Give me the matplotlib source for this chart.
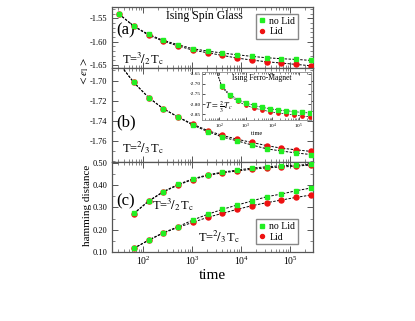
import matplotlib
matplotlib.use("Agg")
import matplotlib.pyplot as plt
from matplotlib.ticker import MultipleLocator, FixedLocator, LogLocator, NullFormatter, FormatStrFormatter

plt.rcParams['font.family'] = ['Liberation Serif', 'DejaVu Serif']
plt.rcParams['mathtext.fontset'] = 'stix'

# time grid (factor-2 steps)
t_a = [32, 64, 128, 256, 512, 1024, 2048, 4096, 8192, 16384, 32768, 65536, 131072, 262144]
t_c = t_a[1:]

# (a) spin glass energy, T = 3/2 Tc
a_nolid = [-1.5407, -1.5664, -1.5843, -1.5971, -1.6064, -1.6150, -1.6200,
           -1.6243, -1.6279, -1.6314, -1.6343, -1.6364, -1.6379, -1.6400]
a_lid = [-1.5410, -1.5670, -1.5860, -1.5990, -1.6090, -1.6180, -1.6236,
         -1.6293, -1.6350, -1.6393, -1.6429, -1.6457, -1.6486, -1.6514]

# (b) spin glass energy, T = 2/3 Tc
b_nolid = [-1.6830, -1.7019, -1.7168, -1.7279, -1.7362, -1.7441, -1.7505,
           -1.7559, -1.7597, -1.7638, -1.7676, -1.7698, -1.7717, -1.7733]
b_lid = [-1.6830, -1.7019, -1.7168, -1.7279, -1.7360, -1.7432, -1.7495,
         -1.7543, -1.7581, -1.7613, -1.7644, -1.7670, -1.7686, -1.7702]

# (c) hamming distance
c_hi_nolid = [0.273, 0.329, 0.371, 0.403, 0.428, 0.446, 0.458, 0.467, 0.476, 0.482, 0.4865, 0.4895, 0.4925]
c_hi_lid = [0.272, 0.327, 0.369, 0.400, 0.425, 0.443, 0.455, 0.463, 0.471, 0.477, 0.481, 0.485, 0.490]
c_lo_nolid = [0.1164, 0.1537, 0.1866, 0.2134, 0.2433, 0.2687, 0.2910, 0.3104, 0.3284, 0.3478, 0.3597, 0.3746, 0.3866]
c_lo_lid = [0.1164, 0.1520, 0.1850, 0.2104, 0.2328, 0.2552, 0.2731, 0.2910, 0.3075, 0.3209, 0.3328, 0.3448, 0.3552]

# inset: ferromagnet energy
t_in = [64, 128, 256, 512, 1024, 2048, 4096, 8192, 16384, 32768, 65536, 131072, 262144]
in_nolid = [-2.600, -2.7117, -2.753, -2.778, -2.795, -2.807, -2.817, -2.823, -2.830, -2.833, -2.838, -2.842, -2.845]
in_lid = [-2.600, -2.716, -2.760, -2.787, -2.807, -2.820, -2.830, -2.838, -2.845, -2.850, -2.855, -2.860, -2.864]

GREEN = '#22ee22'
RED = '#ee1111'
FRAME = '#555555'
XLIM = (23, 2.9e5)

fig = plt.figure(figsize=(4.15, 3.21), dpi=100)
L, W = 0.270, 0.484
ax_a = fig.add_axes([L, 0.788, W, 0.190])
ax_b = fig.add_axes([L, 0.495, W, 0.293])
ax_c = fig.add_axes([L, 0.215, W, 0.280])


def style(ax, ylab_size=6):
    ax.set_xscale('log')
    ax.set_xlim(*XLIM)
    ax.xaxis.set_major_locator(LogLocator(base=10, numticks=10))
    ax.xaxis.set_minor_locator(LogLocator(base=10, subs=range(2, 10), numticks=20))
    ax.xaxis.set_minor_formatter(NullFormatter())
    ax.tick_params(which='both', direction='in', top=True, right=True, colors=FRAME,
                   labelcolor='black', labelsize=ylab_size)
    ax.tick_params(which='major', length=4, width=0.7)
    ax.tick_params(which='minor', length=2, width=0.5)
    for s in ax.spines.values():
        s.set_color(FRAME)
        s.set_linewidth(0.9)


def draw(ax, t, nolid, lid, ms=3.6, lw=0.7):
    ax.plot(t, lid, ls='--', color='black', lw=lw, dashes=(2.5, 1.5), zorder=2)
    ax.plot(t, nolid, ls='--', color='black', lw=lw, dashes=(2.5, 1.5), zorder=2)
    ax.plot(t, lid, 'o', color=RED, ms=ms, mec=RED, zorder=3, label='Lid')
    ax.plot(t, nolid, 's', color=GREEN, ms=ms * 0.95, mec=GREEN, zorder=4, label='no Lid')


legend_kw = dict(fontsize=7, fancybox=False, edgecolor='#888888', handlelength=0.7,
                 handletextpad=0.4, borderpad=0.3, labelspacing=0.15, markerscale=0.8,
                 framealpha=1)

# (a)
style(ax_a)
draw(ax_a, t_a, a_nolid, a_lid)
ax_a.set_ylim(-1.6564, -1.5258)
ax_a.yaxis.set_major_locator(FixedLocator([-1.65, -1.60, -1.55]))
ax_a.yaxis.set_minor_locator(MultipleLocator(0.01))
ax_a.yaxis.set_major_formatter(FormatStrFormatter('%.2f'))
ax_a.set_xticklabels([])
ax_a.text(0.02, 0.56, '(a)', transform=ax_a.transAxes, fontsize=12)
ax_a.text(0.46, 0.80, 'Ising Spin Glass', transform=ax_a.transAxes, fontsize=8.5, ha='center')
ax_a.text(0.05, 0.08, r'T=$^3\!/_2\,$T$_{\rm c}$', transform=ax_a.transAxes, fontsize=9)
h, l = ax_a.get_legend_handles_labels()
ax_a.legend(h[::-1], l[::-1], loc='upper right', bbox_to_anchor=(0.95, 0.97), **legend_kw)

# (b)
style(ax_b)
draw(ax_b, t_a, b_nolid, b_lid)
ax_b.set_ylim(-1.7808, -1.6876)
ax_b.yaxis.set_major_locator(FixedLocator([-1.76, -1.74, -1.72, -1.70]))
ax_b.yaxis.set_minor_locator(MultipleLocator(0.01))
ax_b.yaxis.set_major_formatter(FormatStrFormatter('%.2f'))
ax_b.set_xticklabels([])
ax_b.text(0.02, 0.38, '(b)', transform=ax_b.transAxes, fontsize=12)
ax_b.text(0.05, 0.10, r'T=$^2\!/_3\,$T$_{\rm c}$', transform=ax_b.transAxes, fontsize=9)

# (c)
style(ax_c, ylab_size=6)
draw(ax_c, t_c, c_hi_nolid, c_hi_lid)
draw(ax_c, t_c, c_lo_nolid, c_lo_lid)
ax_c.set_ylim(0.10, 0.503)
ax_c.yaxis.set_major_locator(FixedLocator([0.1, 0.2, 0.3, 0.4, 0.5]))
ax_c.yaxis.set_minor_locator(MultipleLocator(0.05))
ax_c.yaxis.set_major_formatter(FormatStrFormatter('%.2f'))
ax_c.tick_params(axis='x', labelsize=7, pad=2)
ax_c.text(0.02, 0.52, '(c)', transform=ax_c.transAxes, fontsize=12)
ax_c.text(0.20, 0.48, r'T=$^3\!/_2\,$T$_{\rm c}$', transform=ax_c.transAxes, fontsize=9)
ax_c.text(0.43, 0.12, r'T=$^2\!/_3\,$T$_{\rm c}$', transform=ax_c.transAxes, fontsize=9)
h, l = ax_c.get_legend_handles_labels()
ax_c.legend(h[1::-1], l[1::-1], loc='lower right', bbox_to_anchor=(0.95, 0.03), **legend_kw)
ax_c.set_xlabel('time', fontsize=11, labelpad=1)

fig.text(0.205, 0.778, r'$<e_{\rm l}>$', rotation=90, fontsize=8, ha='center', va='center')
fig.text(0.212, 0.36, 'hamming distance', rotation=90, fontsize=8, ha='center', va='center')

# inset
ax_in = fig.add_axes([0.487, 0.626, 0.263, 0.150])
style(ax_in, ylab_size=3.8)
ax_in.tick_params(which='major', length=2.5, pad=1)
ax_in.tick_params(which='minor', length=1.2)
for s in ax_in.spines.values():
    s.set_color('#888888')
    s.set_linewidth(0.6)
draw(ax_in, t_in, in_nolid, in_lid, ms=2.4, lw=0.5)
ax_in.set_ylim(-2.88, -2.64)
ax_in.yaxis.set_major_locator(MultipleLocator(0.05))
ax_in.yaxis.set_major_formatter(FormatStrFormatter('%.2f'))
ax_in.set_xlabel('time', fontsize=4.5, labelpad=0.5)
ax_in.text(0.55, 0.83, 'Ising Ferro-Magnet', transform=ax_in.transAxes, fontsize=5.5, ha='center')
ax_in.text(0.03, 0.22, r'$T\,=\,\frac{2}{3}T_c$', transform=ax_in.transAxes, fontsize=6)

fig.savefig('out.png', dpi=100)
